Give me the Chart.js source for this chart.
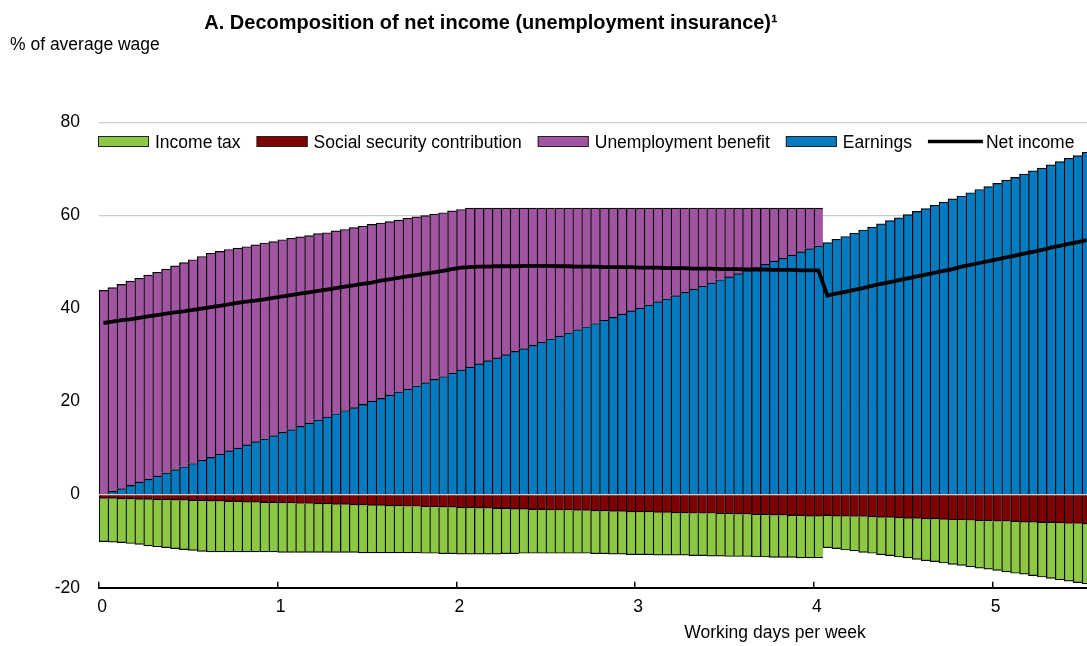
<!DOCTYPE html>
<html>
<head>
<meta charset="utf-8">
<script src="https://cdn.jsdelivr.net/npm/chart.js@4.4.0/dist/chart.umd.min.js"></script>
<style>
  html, body { margin: 0; padding: 0; background: #fff; overflow: hidden; }
  #wrap { position: relative; width: 1092px; height: 646px; }
</style>
</head>
<body>
<div id="wrap"><canvas id="chart"></canvas></div>
<script>
// Working days per week (one bar per 0.05 day)
const days = [
  0.00, 0.05, 0.10, 0.15, 0.20, 0.25, 0.30, 0.35, 0.40, 0.45,
  0.50, 0.55, 0.60, 0.65, 0.70, 0.75, 0.80, 0.85, 0.90, 0.95,
  1.00, 1.05, 1.10, 1.15, 1.20, 1.25, 1.30, 1.35, 1.40, 1.45,
  1.50, 1.55, 1.60, 1.65, 1.70, 1.75, 1.80, 1.85, 1.90, 1.95,
  2.00, 2.05, 2.10, 2.15, 2.20, 2.25, 2.30, 2.35, 2.40, 2.45,
  2.50, 2.55, 2.60, 2.65, 2.70, 2.75, 2.80, 2.85, 2.90, 2.95,
  3.00, 3.05, 3.10, 3.15, 3.20, 3.25, 3.30, 3.35, 3.40, 3.45,
  3.50, 3.55, 3.60, 3.65, 3.70, 3.75, 3.80, 3.85, 3.90, 3.95,
  4.00, 4.05, 4.10, 4.15, 4.20, 4.25, 4.30, 4.35, 4.40, 4.45,
  4.50, 4.55, 4.60, 4.65, 4.70, 4.75, 4.80, 4.85, 4.90, 4.95,
  5.00, 5.05, 5.10, 5.15, 5.20, 5.25, 5.30, 5.35, 5.40, 5.45, 5.50
];

// % of average wage
const earnings = [
  0, 0.7, 1.3, 2.0, 2.7, 3.3, 4.0, 4.7, 5.4, 6.0,
  6.7, 7.4, 8.0, 8.7, 9.4, 10.0, 10.7, 11.4, 12.0, 12.7,
  13.4, 14.0, 14.7, 15.4, 16.1, 16.7, 17.4, 18.1, 18.7, 19.4,
  20.1, 20.7, 21.4, 22.1, 22.7, 23.4, 24.1, 24.8, 25.4, 26.1,
  26.8, 27.4, 28.1, 28.8, 29.4, 30.1, 30.8, 31.4, 32.1, 32.8,
  33.5, 34.1, 34.8, 35.5, 36.1, 36.8, 37.5, 38.1, 38.8, 39.5,
  40.1, 40.8, 41.5, 42.1, 42.8, 43.5, 44.2, 44.8, 45.5, 46.2,
  46.8, 47.5, 48.2, 48.8, 49.5, 50.2, 50.8, 51.5, 52.2, 52.9,
  53.5, 54.2, 54.9, 55.5, 56.2, 56.9, 57.5, 58.2, 58.9, 59.5,
  60.2, 60.9, 61.5, 62.2, 62.9, 63.6, 64.2, 64.9, 65.6, 66.2,
  66.9, 67.6, 68.2, 68.9, 69.6, 70.2, 70.9, 71.6, 72.3, 72.9, 73.6
];

const unemploymentBenefit = [
  43.9, 43.8, 43.9, 43.9, 43.8, 43.9, 43.8, 43.8, 43.8, 43.9,
  43.8, 43.8, 43.9, 43.6, 43.3, 43.0, 42.6, 42.3, 42.1, 41.7,
  41.4, 41.1, 40.7, 40.3, 40.0, 39.6, 39.3, 38.9, 38.7, 38.3,
  38.0, 37.7, 37.3, 36.9, 36.7, 36.3, 35.9, 35.5, 35.2, 34.9,
  34.5, 34.2, 33.5, 32.8, 32.2, 31.5, 30.8, 30.2, 29.5, 28.8,
  28.1, 27.5, 26.8, 26.1, 25.5, 24.8, 24.1, 23.5, 22.8, 22.1,
  21.5, 20.8, 20.1, 19.5, 18.8, 18.1, 17.4, 16.8, 16.1, 15.4,
  14.8, 14.1, 13.4, 12.8, 12.1, 11.4, 10.8, 10.1, 9.4, 8.7,
  8.1, null, null, null, null, null, null, null, null, null,
  null, null, null, null, null, null, null, null, null, null,
  null, null, null, null, null, null, null, null, null, null, null
];

const socialSecurity = [
  -0.8, -0.8, -0.9, -0.9, -1.0, -1.0, -1.1, -1.1, -1.2, -1.2,
  -1.3, -1.3, -1.4, -1.4, -1.5, -1.5, -1.6, -1.6, -1.7, -1.7,
  -1.8, -1.8, -1.9, -1.9, -2.0, -2.0, -2.1, -2.1, -2.2, -2.2,
  -2.3, -2.3, -2.4, -2.4, -2.5, -2.5, -2.6, -2.6, -2.7, -2.7,
  -2.8, -2.8, -2.9, -2.9, -3.0, -3.0, -3.1, -3.1, -3.2, -3.2,
  -3.3, -3.3, -3.3, -3.4, -3.4, -3.5, -3.5, -3.6, -3.6, -3.7,
  -3.7, -3.7, -3.8, -3.8, -3.9, -3.9, -4.0, -4.0, -4.0, -4.1,
  -4.1, -4.2, -4.2, -4.3, -4.3, -4.4, -4.4, -4.5, -4.5, -4.6,
  -4.6, -4.5, -4.6, -4.6, -4.7, -4.7, -4.8, -4.9, -4.9, -5.0,
  -5.1, -5.1, -5.2, -5.2, -5.3, -5.4, -5.4, -5.5, -5.6, -5.6,
  -5.7, -5.7, -5.8, -5.9, -5.9, -6.0, -6.0, -6.1, -6.2, -6.2, -6.3
];

const incomeTax = [
  -9.3, -9.4, -9.4, -9.6, -9.7, -10.0, -10.1, -10.3, -10.4, -10.6,
  -10.7, -10.9, -10.9, -10.9, -10.8, -10.8, -10.7, -10.7, -10.6, -10.6,
  -10.6, -10.6, -10.5, -10.5, -10.4, -10.4, -10.3, -10.3, -10.2, -10.3,
  -10.2, -10.2, -10.1, -10.1, -10.0, -10.0, -10.0, -10.0, -10.0, -10.0,
  -10.0, -10.0, -9.9, -9.9, -9.8, -9.7, -9.6, -9.5, -9.4, -9.4,
  -9.3, -9.3, -9.3, -9.2, -9.2, -9.2, -9.2, -9.2, -9.2, -9.2,
  -9.2, -9.2, -9.2, -9.2, -9.1, -9.1, -9.1, -9.1, -9.2, -9.1,
  -9.2, -9.1, -9.1, -9.1, -9.1, -9.1, -9.1, -9.0, -9.1, -9.0,
  -9.0, -6.9, -7.0, -7.3, -7.4, -7.7, -7.8, -8.0, -8.2, -8.4,
  -8.5, -8.8, -9.0, -9.2, -9.4, -9.6, -9.8, -10.0, -10.2, -10.4,
  -10.6, -10.9, -11.1, -11.2, -11.5, -11.7, -12.0, -12.2, -12.4, -12.7, -12.9
];

const netIncome = [
  36.9, 37.2, 37.5, 37.7, 38.0, 38.3, 38.6, 38.9, 39.2, 39.4,
  39.7, 40.0, 40.3, 40.6, 40.9, 41.2, 41.5, 41.7, 42.0, 42.3,
  42.6, 42.9, 43.2, 43.5, 43.8, 44.1, 44.4, 44.7, 45.0, 45.3,
  45.6, 46.0, 46.3, 46.6, 46.9, 47.2, 47.5, 47.8, 48.1, 48.5,
  48.8, 48.9, 49.0, 49.0, 49.1, 49.1, 49.1, 49.2, 49.2, 49.2,
  49.2, 49.1, 49.1, 49.0, 49.0, 49.0, 48.9, 48.9, 48.9, 48.9,
  48.8, 48.8, 48.8, 48.7, 48.7, 48.7, 48.6, 48.6, 48.6, 48.5,
  48.5, 48.5, 48.4, 48.4, 48.4, 48.3, 48.3, 48.3, 48.2, 48.2,
  48.2, 42.8, 43.2, 43.6, 44.0, 44.4, 44.9, 45.3, 45.7, 46.1,
  46.5, 46.9, 47.3, 47.7, 48.1, 48.5, 49.0, 49.4, 49.8, 50.2,
  50.6, 51.0, 51.4, 51.8, 52.2, 52.6, 53.1, 53.5, 53.9, 54.3, 54.7
];

const yTicks = [-20, 0, 20, 40, 60, 80];
const xTicks = [0, 1, 2, 3, 4, 5];

const TITLE = 'A. Decomposition of net income (unemployment insurance)\u00B9';
const UNIT_LABEL = '% of average wage';
const X_TITLE = 'Working days per week';
const LEGEND_ORDER = ['Income tax', 'Social security contribution', 'Unemployment benefit', 'Earnings', 'Net income'];

const FONT = '"Liberation Sans", Arial, Helvetica, sans-serif';
const COLORS = {
  green: '#8cc841',
  darkRed: '#7f0000',
  purple: '#a154a1',
  blue: '#037bc1',
  black: '#000000',
  grid: '#cccccc'
};

Chart.defaults.font.family = FONT;
Chart.defaults.font.size = 17.5;
Chart.defaults.color = '#000';

// Bars touch each other; a dark edge on the left and the outer end of every segment
const barStyle = {
  type: 'bar',
  borderColor: '#000',
  borderWidth: { top: 1.2, left: 1.3, right: 0, bottom: 1.2 },
  borderSkipped: 'start',
  barPercentage: 1,
  categoryPercentage: 1,
  xAxisID: 'x',
  stack: 'income'
};

// Title, unit label, axis title and the key drawn inside the plot
const panelText = {
  id: 'panelText',
  afterDraw(chart) {
    const ctx = chart.ctx;
    const area = chart.chartArea;
    ctx.save();
    ctx.fillStyle = '#000';
    ctx.textBaseline = 'alphabetic';

    ctx.font = 'bold 20px ' + FONT;
    ctx.textAlign = 'center';
    ctx.fillText(TITLE, 491, 29);

    ctx.font = '17.5px ' + FONT;
    ctx.textAlign = 'left';
    ctx.fillText(UNIT_LABEL, 10, 50);

    ctx.textAlign = 'center';
    ctx.fillText(X_TITLE, 775, 638);

    // key
    let x = area.left - 1;
    const yMid = area.top + 19;
    ctx.textAlign = 'left';
    for (const name of LEGEND_ORDER) {
      const ds = chart.data.datasets.find(d => d.label === name);
      if (ds.type === 'line') {
        ctx.strokeStyle = ds.borderColor;
        ctx.lineWidth = 3.5;
        ctx.beginPath();
        ctx.moveTo(x, yMid);
        ctx.lineTo(x + 55, yMid);
        ctx.stroke();
        x += 58;
      } else {
        ctx.fillStyle = ds.backgroundColor;
        ctx.fillRect(x, yMid - 5.5, 51, 11);
        ctx.strokeStyle = '#222';
        ctx.lineWidth = 1;
        ctx.strokeRect(x + 0.5, yMid - 5, 50, 10);
        x += 57;
      }
      ctx.fillStyle = '#000';
      ctx.fillText(name, x, yMid + 6);
      x += ctx.measureText(name).width + 16;
    }
    ctx.restore();
  }
};

new Chart(document.getElementById('chart'), {
  data: {
    labels: days,
    datasets: [
      Object.assign({}, barStyle, { label: 'Earnings', data: earnings, backgroundColor: COLORS.blue }),
      Object.assign({}, barStyle, { label: 'Unemployment benefit', data: unemploymentBenefit, backgroundColor: COLORS.purple }),
      Object.assign({}, barStyle, { label: 'Social security contribution', data: socialSecurity, backgroundColor: COLORS.darkRed }),
      Object.assign({}, barStyle, { label: 'Income tax', data: incomeTax, backgroundColor: COLORS.green }),
      {
        type: 'line',
        label: 'Net income',
        data: netIncome,
        xAxisID: 'x',
        stack: 'net',
        order: -1,
        borderColor: COLORS.black,
        backgroundColor: COLORS.black,
        borderWidth: 3.8,
        pointRadius: 0,
        tension: 0,
        fill: false
      }
    ]
  },
  options: {
    responsive: true,
    maintainAspectRatio: false,
    animation: false,
    layout: { padding: { top: 122.5, right: 1, bottom: 0, left: 0 } },
    plugins: {
      legend: { display: false },
      tooltip: { enabled: false },
      title: { display: false }
    },
    scales: {
      x: {
        type: 'category',
        display: false,
        stacked: true,
        offset: true
      },
      days: {
        type: 'linear',
        position: 'bottom',
        min: 0,
        max: 5.55,
        afterBuildTicks: s => { s.ticks = xTicks.map(v => ({ value: v })); },
        afterFit: s => { s.height = 58.3; },
        ticks: { includeBounds: false, padding: 15, labelOffset: 3, color: '#000', font: { size: 17.5 } },
        grid: { drawOnChartArea: false, drawTicks: true, tickLength: -6, color: '#000', lineWidth: 1.5 },
        border: { display: true, color: '#000', width: 2 }
      },
      y: {
        type: 'linear',
        stacked: true,
        min: -20,
        max: 80,
        afterBuildTicks: s => { s.ticks = yTicks.map(v => ({ value: v })); },
        afterFit: s => { s.width = 99; },
        ticks: { padding: 19, color: '#000', font: { size: 17.5 } },
        grid: { color: COLORS.grid, lineWidth: 1.2, drawTicks: false },
        border: { display: false }
      }
    }
  },
  plugins: [panelText]
});
</script>
</body>
</html>
